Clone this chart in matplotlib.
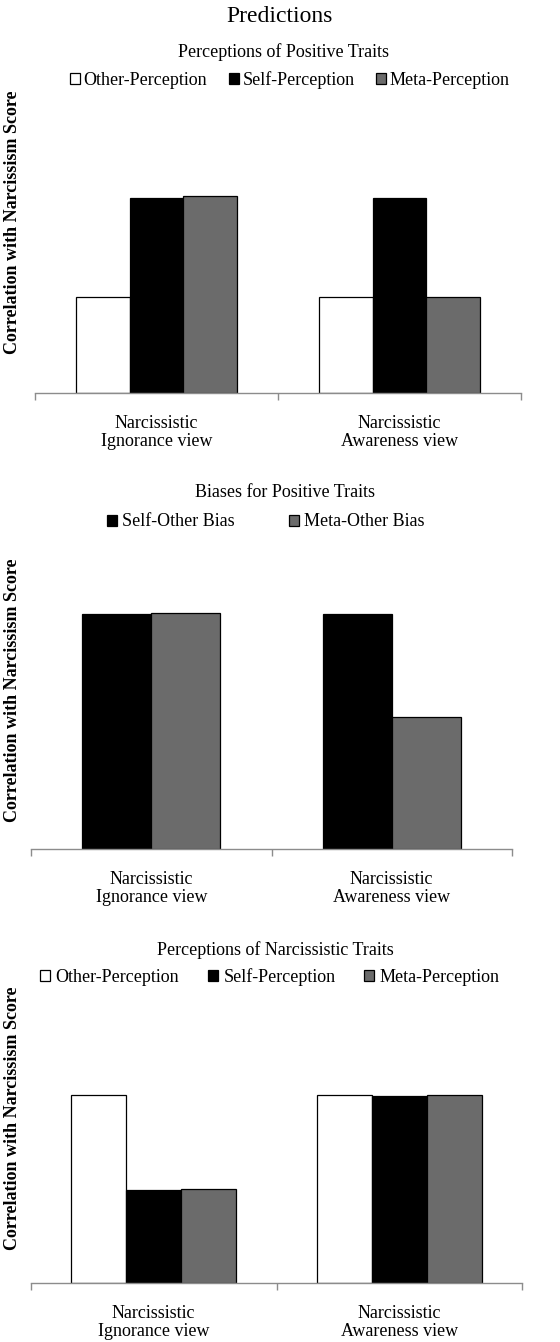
import matplotlib
matplotlib.use("Agg")
import matplotlib.pyplot as plt
import numpy as np

plt.rcParams['font.family'] = ['Liberation Serif', 'DejaVu Serif']

# ---------------- data ----------------
main_title = "Predictions"
categories = ["Narcissistic\nIgnorance view", "Narcissistic\nAwareness view"]

p1_title = "Perceptions of Positive Traits"
p1_series = ["Other-Perception", "Self-Perception", "Meta-Perception"]
p1_other = [0.49, 0.49]
p1_self = [1.00, 1.00]
p1_meta = [1.01, 0.49]

p2_title = "Biases for Positive Traits"
p2_series = ["Self-Other Bias", "Meta-Other Bias"]
p2_self_other = [1.00, 1.00]
p2_meta_other = [1.005, 0.56]

p3_title = "Perceptions of Narcissistic Traits"
p3_series = ["Other-Perception", "Self-Perception", "Meta-Perception"]
p3_other = [1.00, 1.00]
p3_self = [0.495, 0.995]
p3_meta = [0.50, 1.00]

ylabel = "Correlation with Narcissism Score"

# ---------------- styling ----------------
W, H = 560, 1342
GRAY = "#6b6b6b"
FS = 13

fig = plt.figure(figsize=(W / 100, H / 100), dpi=100)
fig.patch.set_facecolor("white")


def ax_at(left, right, base, top):
    return fig.add_axes([left / W, 1 - base / H, (right - left) / W, (base - top) / H])


def style_axis(ax, ylim):
    ax.set_xlim(-0.5, 1.5)
    ax.set_ylim(*ylim)
    for s in ("left", "right", "top"):
        ax.spines[s].set_visible(False)
    ax.spines["bottom"].set_color("#8c8c8c")
    ax.spines["bottom"].set_linewidth(1.0)
    ax.set_yticks([])
    ax.set_xticks([-0.5, 0.5, 1.5])
    ax.set_xticklabels([])
    ax.tick_params(axis="x", which="major", direction="out", length=5,
                   color="#8c8c8c", width=1.0)
    ax.set_xticks([0, 1], minor=True)
    ax.set_xticklabels(categories, minor=True, fontsize=FS, linespacing=1.05)
    ax.tick_params(axis="x", which="minor", length=0, pad=16)
    ax.patch.set_alpha(0)


def add_ylabel(ax, left, right, center_px, base, top):
    xa = (21 - left) / (right - left)
    ya = (base - center_px) / (base - top)
    ax.set_ylabel(ylabel, fontsize=FS, fontweight="bold")
    ax.yaxis.set_label_coords(xa, ya)


x = np.arange(len(categories))
ekw = dict(edgecolor="black", linewidth=0.9)

# ---------------- title ----------------
fig.text(0.5, 1 - 17 / H, main_title, ha="center", va="center", fontsize=17)

# ---------------- panel 1 ----------------
L, R, B, T = 35, 521, 393, 100.5
ax1 = ax_at(L, R, B, T)
bw = 0.222
h1 = [ax1.bar(x - bw, p1_other, bw, color="white", label=p1_series[0], **ekw),
      ax1.bar(x, p1_self, bw, color="black", label=p1_series[1], **ekw),
      ax1.bar(x + bw, p1_meta, bw, color=GRAY, label=p1_series[2], **ekw)]
style_axis(ax1, (0, 1.5))
add_ylabel(ax1, L, R, 222, B, T)
fig.text(283 / W, 1 - 52 / H, p1_title, ha="center", va="center", fontsize=FS)
fig.legend(handles=h1, loc="center", bbox_to_anchor=(290 / W, 1 - 80 / H),
           ncol=3, frameon=False, fontsize=FS, handlelength=0.55, handleheight=0.55,
           handletextpad=0.2, columnspacing=1.2, borderpad=0, borderaxespad=0)

# ---------------- panel 2 ----------------
L, R, B, T = 31, 512, 849, 567
ax2 = ax_at(L, R, B, T)
bw2 = 0.286
h2 = [ax2.bar(x - bw2 / 2, p2_self_other, bw2, color="black", label=p2_series[0], **ekw),
      ax2.bar(x + bw2 / 2, p2_meta_other, bw2, color=GRAY, label=p2_series[1], **ekw)]
style_axis(ax2, (0, 1.2))
add_ylabel(ax2, L, R, 690, B, T)
fig.text(285 / W, 1 - 492 / H, p2_title, ha="center", va="center", fontsize=FS)
fig.legend(handles=h2, loc="center", bbox_to_anchor=(266 / W, 1 - 522 / H),
           ncol=2, frameon=False, fontsize=FS, handlelength=0.55, handleheight=0.55,
           handletextpad=0.3, columnspacing=3.0, borderpad=0, borderaxespad=0)

# ---------------- panel 3 ----------------
L, R, B, T = 31, 522, 1283, 1001
ax3 = ax_at(L, R, B, T)
bw3 = 0.224
h3 = [ax3.bar(x - bw3, p3_other, bw3, color="white", label=p3_series[0], **ekw),
      ax3.bar(x, p3_self, bw3, color="black", label=p3_series[1], **ekw),
      ax3.bar(x + bw3, p3_meta, bw3, color=GRAY, label=p3_series[2], **ekw)]
style_axis(ax3, (0, 1.5))
add_ylabel(ax3, L, R, 1118, B, T)
fig.text(275 / W, 1 - 950 / H, p3_title, ha="center", va="center", fontsize=FS)
fig.legend(handles=h3, loc="center", bbox_to_anchor=(270 / W, 1 - 977 / H),
           ncol=3, frameon=False, fontsize=FS, handlelength=0.55, handleheight=0.55,
           handletextpad=0.3, columnspacing=1.6, borderpad=0, borderaxespad=0)

fig.savefig("out.png", dpi=100, facecolor="white")
